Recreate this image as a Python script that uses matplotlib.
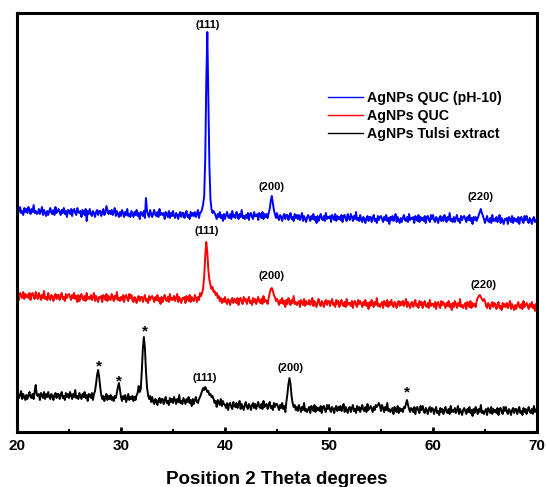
import numpy as np
import matplotlib
matplotlib.use("Agg")
import matplotlib.pyplot as plt
from matplotlib.ticker import MultipleLocator

plt.rcParams['font.family'] = ['Liberation Sans', 'DejaVu Sans']
plt.rcParams['font.weight'] = 'bold'

# 2-theta grid, 0.1 deg steps from 20 to 70 (one row of values per degree below)
two_theta = np.round(np.arange(20.0, 70.001, 0.1), 1)

# stacked intensity traces (a.u., vertical offsets already included)
blue_ph10 = [
    223, 218, 222, 225, 219, 221, 217, 224, 220, 223,
    219, 225, 222, 218, 223, 220, 227, 219, 221, 218,
    219, 223, 218, 221, 225, 217, 222, 219, 216, 221,
    217, 221, 224, 219, 218, 222, 217, 225, 219, 221,
    223, 220, 217, 222, 219, 224, 218, 221, 215, 222,
    221, 218, 223, 216, 222, 223, 219, 217, 224, 220,
    219, 221, 215, 222, 220, 217, 223, 211, 221, 218,
    223, 218, 216, 221, 219, 215, 220, 222, 217, 221,
    221, 216, 220, 223, 217, 219, 226, 222, 218, 221,
    218, 222, 217, 220, 224, 216, 221, 218, 215, 220,
    216, 222, 219, 215, 220, 217, 223, 216, 218, 215,
    221, 218, 215, 220, 217, 222, 216, 219, 213, 220,
    219, 216, 221, 214, 234, 221, 217, 215, 222, 218,
    215, 219, 222, 217, 216, 220, 215, 223, 217, 219,
    217, 219, 213, 220, 218, 215, 221, 214, 219, 216,
    221, 216, 214, 219, 217, 213, 218, 220, 215, 219,
    219, 214, 218, 221, 215, 217, 213, 220, 216, 219,
    216, 220, 215, 218, 222, 214, 219, 220, 223, 228,
    236, 274, 350, 400, 335, 266, 233, 223, 219, 221,
    219, 216, 213, 218, 215, 220, 214, 217, 211, 218,
    213, 217, 220, 215, 214, 218, 213, 221, 215, 217,
    214, 220, 217, 213, 218, 215, 222, 214, 216, 213,
    217, 214, 219, 212, 218, 219, 215, 213, 220, 216,
    216, 218, 212, 219, 217, 214, 220, 213, 218, 215,
    218, 214, 219, 223, 231, 236, 229, 222, 218, 214,
    219, 214, 212, 217, 215, 211, 216, 218, 213, 217,
    217, 212, 216, 219, 213, 215, 211, 218, 214, 217,
    213, 217, 212, 215, 219, 211, 216, 213, 210, 215,
    217, 214, 211, 216, 213, 218, 212, 215, 209, 216,
    211, 215, 218, 213, 212, 216, 211, 219, 213, 215,
    214, 216, 210, 217, 215, 212, 218, 211, 216, 213,
    215, 212, 217, 210, 216, 217, 213, 211, 218, 214,
    212, 218, 215, 211, 216, 213, 220, 212, 214, 211,
    217, 212, 210, 215, 213, 209, 214, 216, 211, 215,
    215, 210, 214, 217, 211, 213, 209, 216, 212, 215,
    216, 213, 210, 215, 212, 217, 211, 214, 208, 215,
    212, 216, 211, 214, 218, 210, 215, 212, 209, 214,
    210, 214, 217, 212, 211, 215, 210, 218, 212, 214,
    213, 215, 209, 216, 214, 211, 217, 210, 215, 212,
    214, 211, 216, 209, 215, 216, 212, 210, 217, 213,
    217, 212, 210, 215, 213, 209, 214, 216, 211, 215,
    211, 217, 214, 210, 215, 212, 219, 211, 213, 210,
    215, 210, 214, 217, 211, 213, 209, 216, 212, 215,
    216, 213, 210, 215, 212, 217, 211, 214, 208, 215,
    212, 215, 211, 214, 217, 220, 223, 219, 216, 213,
    209, 213, 216, 211, 210, 214, 209, 217, 211, 213,
    211, 215, 210, 213, 217, 209, 214, 211, 208, 213,
    212, 214, 208, 215, 213, 210, 216, 209, 214, 211,
    213, 210, 215, 208, 214, 215, 211, 209, 216, 212,
    216, 211, 209, 214, 212, 208, 213, 215, 210, 212,
    211,
]

red_quc = [
    136, 138, 132, 139, 137, 134, 140, 133, 138, 135,
    137, 134, 139, 132, 138, 139, 135, 133, 140, 136,
    133, 139, 136, 132, 137, 134, 141, 133, 135, 132,
    139, 134, 132, 137, 135, 131, 136, 138, 133, 137,
    137, 132, 136, 139, 133, 135, 131, 138, 134, 137,
    138, 135, 132, 137, 134, 139, 133, 136, 130, 137,
    131, 135, 138, 133, 132, 136, 131, 139, 133, 135,
    133, 137, 132, 135, 139, 131, 136, 133, 130, 135,
    134, 136, 130, 137, 135, 132, 138, 131, 136, 133,
    132, 138, 135, 131, 136, 133, 140, 132, 134, 131,
    135, 132, 137, 130, 136, 137, 133, 131, 138, 134,
    137, 132, 130, 135, 133, 129, 134, 136, 131, 135,
    135, 130, 134, 137, 131, 133, 129, 136, 132, 135,
    136, 133, 130, 135, 132, 137, 131, 134, 128, 135,
    130, 134, 137, 132, 131, 135, 130, 138, 132, 134,
    132, 136, 131, 134, 138, 130, 135, 132, 129, 134,
    133, 135, 129, 136, 134, 131, 137, 130, 135, 132,
    131, 137, 134, 130, 135, 132, 139, 136, 139, 144,
    156, 176, 190, 179, 162, 152, 147, 143, 145, 140,
    141, 137, 139, 134, 136, 131, 134, 129, 133, 130,
    135, 130, 128, 133, 131, 127, 132, 134, 129, 133,
    132, 129, 134, 127, 133, 134, 130, 128, 135, 131,
    133, 128, 132, 135, 129, 131, 127, 134, 130, 133,
    128, 132, 135, 130, 129, 133, 128, 136, 130, 132,
    131, 128, 134, 139, 143, 144, 141, 137, 135, 131,
    133, 130, 127, 132, 129, 134, 128, 131, 125, 132,
    128, 134, 131, 127, 132, 129, 136, 128, 130, 127,
    129, 131, 125, 132, 130, 127, 133, 126, 131, 128,
    128, 132, 127, 130, 134, 126, 131, 128, 125, 130,
    133, 128, 126, 131, 129, 125, 130, 132, 127, 131,
    131, 126, 130, 133, 127, 129, 125, 132, 128, 131,
    125, 129, 132, 127, 126, 130, 125, 133, 127, 129,
    129, 126, 131, 124, 130, 131, 127, 125, 132, 128,
    131, 128, 125, 130, 127, 132, 126, 129, 123, 130,
    126, 132, 129, 125, 130, 127, 134, 126, 128, 125,
    128, 130, 124, 131, 129, 126, 132, 125, 130, 127,
    132, 127, 125, 130, 128, 124, 129, 131, 126, 130,
    127, 131, 126, 129, 133, 125, 130, 127, 124, 129,
    130, 125, 129, 132, 126, 128, 124, 131, 127, 130,
    124, 128, 131, 126, 125, 129, 124, 132, 126, 128,
    128, 125, 130, 123, 129, 130, 126, 124, 131, 127,
    130, 127, 124, 129, 126, 131, 125, 128, 122, 129,
    125, 131, 128, 124, 129, 126, 133, 125, 127, 124,
    127, 129, 123, 130, 128, 125, 131, 124, 129, 126,
    128, 125, 131, 134, 136, 137, 135, 133, 131, 133,
    131, 126, 124, 129, 127, 123, 128, 130, 125, 129,
    128, 123, 127, 130, 124, 126, 122, 129, 125, 128,
    125, 129, 124, 127, 131, 123, 128, 125, 122, 127,
    123, 127, 130, 125, 124, 128, 123, 131, 125, 127,
    129, 126, 123, 128, 125, 130, 124, 127, 121, 128,
    126,
]

black_tulsi = [
    35, 39, 34, 37, 41, 33, 38, 35, 32, 37,
    33, 37, 40, 35, 34, 38, 33, 41, 47, 37,
    36, 38, 32, 39, 37, 34, 40, 33, 38, 35,
    40, 35, 33, 38, 36, 32, 37, 39, 34, 38,
    38, 33, 37, 40, 34, 36, 32, 39, 35, 38,
    34, 40, 37, 33, 38, 35, 42, 34, 36, 33,
    39, 36, 33, 38, 35, 40, 34, 37, 31, 38,
    37, 34, 39, 32, 38, 41, 48, 57, 62, 55,
    45, 37, 33, 36, 31, 35, 38, 32, 36, 33,
    37, 32, 35, 31, 36, 34, 39, 45, 49, 42,
    35, 31, 36, 33, 37, 30, 34, 38, 32, 35,
    33, 36, 31, 35, 32, 37, 39, 46, 40, 43,
    61, 83, 95, 84, 61, 45, 37, 33, 36, 30,
    35, 30, 28, 33, 31, 27, 32, 34, 29, 33,
    33, 28, 32, 35, 29, 31, 27, 34, 30, 33,
    29, 35, 32, 28, 33, 30, 37, 29, 31, 28,
    34, 31, 28, 33, 30, 35, 29, 32, 26, 33,
    28, 32, 35, 30, 29, 33, 35, 38, 41, 44,
    42, 45, 43, 40, 41, 37, 38, 35, 36, 33,
    29, 31, 25, 32, 30, 27, 33, 26, 31, 28,
    27, 24, 29, 22, 28, 29, 25, 23, 30, 26,
    25, 29, 24, 27, 31, 23, 28, 25, 22, 27,
    30, 25, 23, 28, 26, 22, 27, 29, 24, 28,
    23, 27, 30, 25, 24, 28, 23, 31, 25, 27,
    28, 23, 27, 30, 24, 26, 22, 29, 25, 28,
    28, 25, 22, 27, 24, 29, 23, 26, 20, 30,
    38, 48, 54, 48, 36, 29, 25, 27, 22, 25,
    21, 27, 24, 20, 25, 22, 29, 21, 23, 20,
    23, 25, 19, 26, 24, 21, 27, 20, 25, 22,
    24, 21, 26, 19, 25, 26, 22, 20, 27, 23,
    27, 22, 20, 25, 23, 19, 24, 26, 21, 25,
    22, 26, 21, 24, 28, 20, 25, 22, 19, 24,
    25, 20, 24, 27, 21, 23, 19, 26, 22, 25,
    20, 24, 27, 22, 21, 25, 20, 28, 22, 24,
    26, 23, 20, 25, 22, 27, 25, 27, 29, 26,
    21, 27, 24, 20, 25, 22, 29, 21, 23, 20,
    22, 24, 18, 25, 23, 20, 26, 19, 24, 21,
    23, 20, 25, 24, 28, 32, 27, 23, 20, 24,
    23, 20, 25, 18, 24, 25, 21, 19, 26, 22,
    26, 21, 19, 24, 22, 18, 23, 25, 20, 24,
    23, 18, 22, 25, 19, 21, 17, 24, 20, 23,
    18, 22, 25, 20, 19, 23, 18, 26, 20, 22,
    20, 24, 19, 22, 26, 18, 23, 20, 17, 22,
    24, 21, 18, 23, 20, 25, 19, 22, 16, 23,
    19, 25, 22, 18, 23, 20, 27, 19, 21, 18,
    21, 23, 17, 24, 22, 19, 25, 18, 23, 20,
    22, 19, 24, 17, 23, 24, 20, 18, 25, 21,
    25, 20, 18, 23, 21, 17, 22, 24, 19, 23,
    23, 18, 22, 25, 19, 21, 17, 24, 20, 23,
    18, 22, 25, 20, 19, 23, 18, 26, 20, 22,
    24,
]

series_labels = ['AgNPs QUC (pH-10)', 'AgNPs QUC', 'AgNPs Tulsi extract']
series_colors = ['#0000ff', '#ff0000', '#000000']

# reflection labels: (2theta, height, text)
blue_marks = [(38.3, 407, '(111)'), (44.5, 245, '(200)'), (64.6, 235, '(220)')]
red_marks = [(38.2, 201, '(111)'), (44.5, 156, '(200)'), (64.9, 147, '(220)')]
black_marks = [(38.0, 54, '(111)'), (46.3, 64, '(200)')]
black_stars = [(27.85, 66), (29.8, 51), (32.3, 101), (57.5, 40)]

fig = plt.figure(figsize=(5.47, 4.87), dpi=100)
ax = fig.add_axes([17 / 547, 1 - 432 / 487, 520 / 547, 419 / 487])

for ys, lab, col in zip([blue_ph10, red_quc, black_tulsi], series_labels, series_colors):
    ax.plot(two_theta, ys, color=col, lw=1.4, label=lab)

for x, y, t in blue_marks + red_marks + black_marks:
    ax.text(x, y, t, ha='center', va='center', fontsize=8, fontweight='bold')
for x, y in black_stars:
    ax.text(x, y, '*', ha='center', va='center', fontsize=11, fontweight='bold')

ax.set_xlim(20, 70)
ax.set_ylim(0, 419)
ax.set_yticks([])
ax.xaxis.set_major_locator(MultipleLocator(10))
ax.xaxis.set_minor_locator(MultipleLocator(5))
ax.tick_params(axis='x', which='major', direction='in', length=3.5, width=2,
               labelsize=11, pad=5)
ax.tick_params(axis='x', which='minor', direction='in', length=2.5, width=1.5)
for lbl in ax.get_xticklabels():
    lbl.set_fontweight('bold')
for sp in ax.spines.values():
    sp.set_linewidth(2.2)

ax.set_xlabel('Position 2 Theta degrees', fontsize=13.5, fontweight='bold', labelpad=13)

leg = ax.legend(loc='upper left', bbox_to_anchor=(0.598, 0.814), frameon=False,
                borderpad=0, borderaxespad=0, handlelength=2.45, handletextpad=0.28,
                labelspacing=0.28, prop={'size': 10.2, 'weight': 'bold'})
for line in leg.get_lines():
    line.set_linewidth(1.0)

fig.savefig('out.png', dpi=100)
